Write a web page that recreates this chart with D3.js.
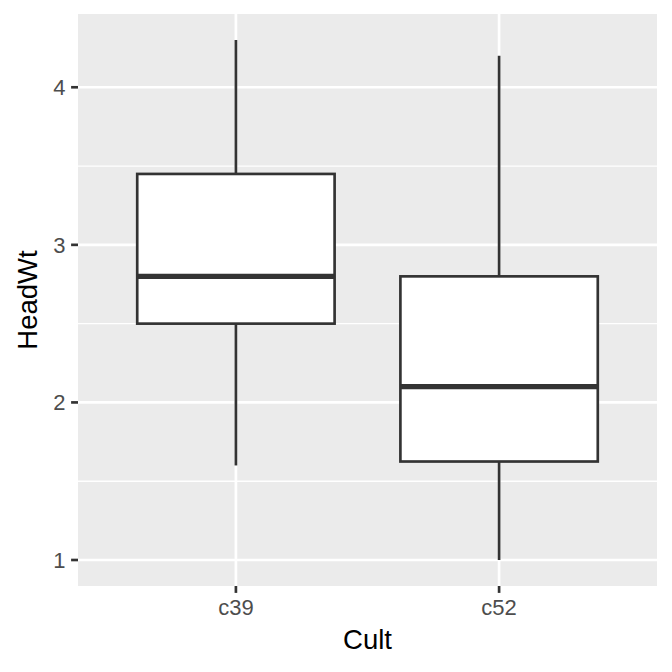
<!DOCTYPE html>
<html><head><meta charset="utf-8">
<script src="https://cdn.jsdelivr.net/npm/d3@7"></script>
<style>body{margin:0;background:#fff}svg{display:block}text{font-family:"Liberation Sans",Arial,sans-serif}</style>
</head><body>
<script>
const categories = ["c39", "c52"];
const whiskerLow = [1.6, 1.0];
const q1 = [2.5, 1.625];
const median = [2.8, 2.1];
const q3 = [3.45, 2.8];
const whiskerHigh = [4.3, 4.2];
const yTicks = [1, 2, 3, 4];
const xTitle = "Cult", yTitle = "HeadWt";

const W = 672, H = 672;
const L = 78, R = 657, T = 14, B = 586;
const lw = 2.67, tickLen = 6.9;
const svg = d3.select("body").append("svg").attr("width", W).attr("height", H);
svg.append("rect").attr("width", W).attr("height", H).attr("fill", "#fff");

const ymin = d3.min(whiskerLow), ymax = d3.max(whiskerHigh), pad = (ymax - ymin) * 0.05;
const y = d3.scaleLinear().domain([ymin - pad, ymax + pad]).range([B, T]);
const xc = d3.scaleLinear().domain([0.4, categories.length + 0.6]).range([L, R]);

svg.append("rect").attr("x", L).attr("y", T).attr("width", R - L).attr("height", B - T).attr("fill", "#EBEBEB");
const g = svg.append("g");
const minor = [];
for (let i = 0; i < yTicks.length - 1; i++) minor.push((yTicks[i] + yTicks[i + 1]) / 2);
g.selectAll(".ymin").data(minor).enter().append("line")
  .attr("x1", L).attr("x2", R).attr("y1", d => y(d)).attr("y2", d => y(d))
  .attr("stroke", "#fff").attr("stroke-width", lw / 2);
g.selectAll(".ymaj").data(yTicks).enter().append("line")
  .attr("x1", L).attr("x2", R).attr("y1", d => y(d)).attr("y2", d => y(d))
  .attr("stroke", "#fff").attr("stroke-width", lw);
g.selectAll(".xmaj").data(categories).enter().append("line")
  .attr("x1", (d, i) => xc(i + 1)).attr("x2", (d, i) => xc(i + 1)).attr("y1", T).attr("y2", B)
  .attr("stroke", "#fff").attr("stroke-width", lw);

const half = (xc(1.375) - xc(1));
const col = "#333333";
categories.forEach((c, i) => {
  const cx = xc(i + 1);
  g.append("line").attr("x1", cx).attr("x2", cx).attr("y1", y(whiskerHigh[i])).attr("y2", y(q3[i])).attr("stroke", col).attr("stroke-width", lw);
  g.append("line").attr("x1", cx).attr("x2", cx).attr("y1", y(q1[i])).attr("y2", y(whiskerLow[i])).attr("stroke", col).attr("stroke-width", lw);
  g.append("rect").attr("x", cx - half).attr("width", 2 * half).attr("y", y(q3[i])).attr("height", y(q1[i]) - y(q3[i]))
    .attr("fill", "#fff").attr("stroke", col).attr("stroke-width", lw);
  g.append("line").attr("x1", cx - half).attr("x2", cx + half).attr("y1", y(median[i])).attr("y2", y(median[i])).attr("stroke", col).attr("stroke-width", lw * 2);
});

const yAxis = svg.append("g");
yAxis.selectAll("line").data(yTicks).enter().append("line")
  .attr("x1", L - tickLen).attr("x2", L).attr("y1", d => y(d)).attr("y2", d => y(d)).attr("stroke", col).attr("stroke-width", lw);
yAxis.selectAll("text").data(yTicks).enter().append("text")
  .attr("x", L - tickLen - 5.5).attr("y", d => y(d)).attr("dy", "0.36em").attr("text-anchor", "end")
  .attr("font-size", 22).attr("fill", "#4D4D4D").text(d => d);
const xAxis = svg.append("g");
xAxis.selectAll("line").data(categories).enter().append("line")
  .attr("x1", (d, i) => xc(i + 1)).attr("x2", (d, i) => xc(i + 1)).attr("y1", B).attr("y2", B + tickLen).attr("stroke", col).attr("stroke-width", lw);
xAxis.selectAll("text").data(categories).enter().append("text")
  .attr("x", (d, i) => xc(i + 1)).attr("y", 615).attr("text-anchor", "middle")
  .attr("font-size", 22).attr("fill", "#4D4D4D").text(d => d);
svg.append("text").attr("x", (L + R) / 2).attr("y", 649).attr("text-anchor", "middle").attr("font-size", 27.5).attr("fill", "#000").text(xTitle);
svg.append("text").attr("transform", `translate(37,${(T + B) / 2}) rotate(-90)`).attr("text-anchor", "middle").attr("font-size", 27.5).attr("fill", "#000").text(yTitle);
</script>
</body></html>
